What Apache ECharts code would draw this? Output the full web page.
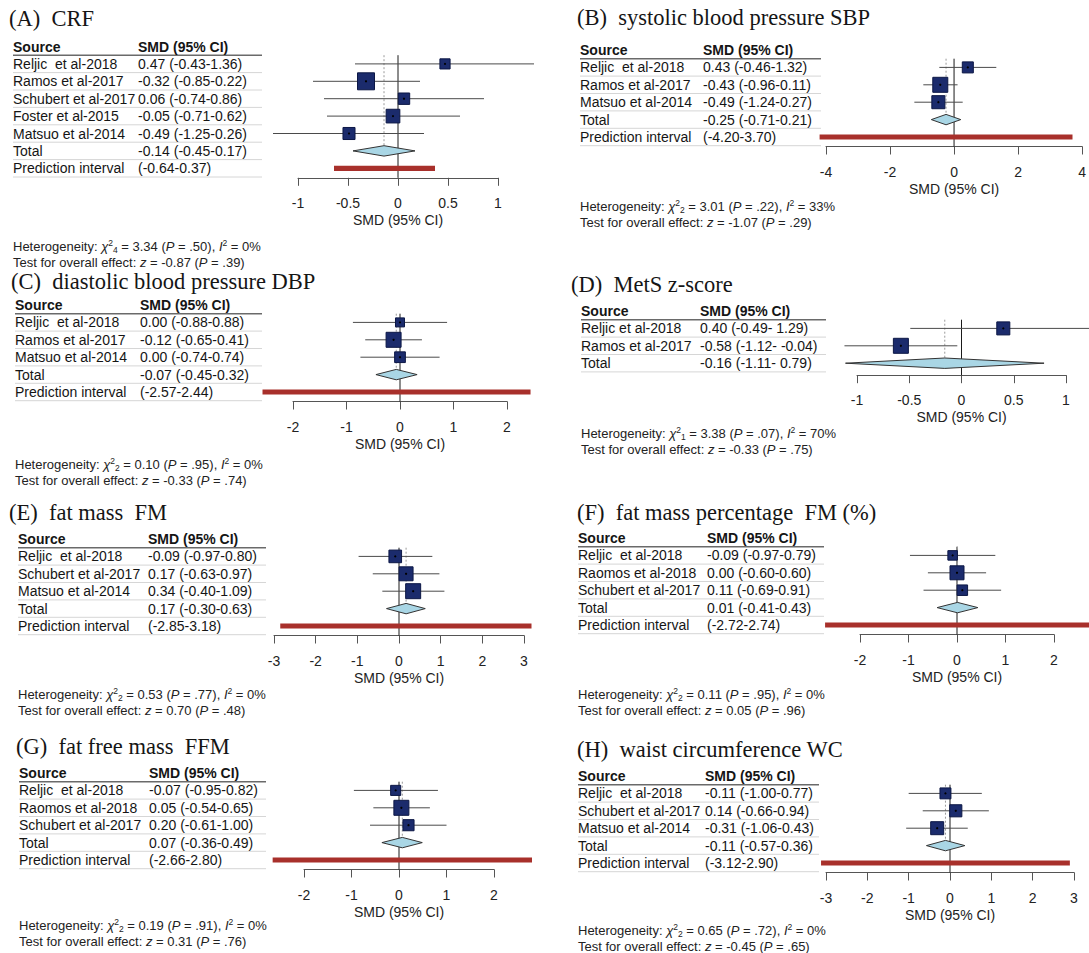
<!DOCTYPE html>
<html><head><meta charset="utf-8">
<script src="https://cdn.jsdelivr.net/npm/echarts@6/dist/echarts.min.js"></script>
<style>html,body{margin:0;padding:0;background:#fff}#c{width:1089px;height:953px}</style>
</head><body><div id="c"></div>
<script>
// ---------------- DATA ----------------
const titleA = 'CRF';
const studiesA = ['Reljic\u00a0\u00a0et al-2018','Ramos et al-2017','Schubert et al-2017','Foster et al-2015','Matsuo et al-2014'];
const smdA = [0.47,-0.32,0.06,-0.05,-0.49];
const lowA = [-0.43,-0.85,-0.74,-0.71,-1.25];
const highA = [1.36,0.22,0.86,0.62,0.26];
const weightA = [12.1,33.8,15.2,21.9,17.0];
const totalA = [-0.14,-0.45,0.17];
const predA = [-0.64,0.37];
const ticksA = [-1,-0.5,0,0.5,1];
const hetA = ['4','3.34','.50','0%'];
const testA = ['-0.87','.39'];

const titleB = 'systolic blood pressure SBP';
const studiesB = ['Reljic\u00a0\u00a0et al-2018','Ramos et al-2017','Matsuo et al-2014'];
const smdB = [0.43,-0.43,-0.49];
const lowB = [-0.46,-0.96,-1.24];
const highB = [1.32,0.11,0.27];
const weightB = [23.5,43.5,33.0];
const totalB = [-0.25,-0.71,0.21];
const predB = [-4.20,3.70];
const ticksB = [-4,-2,0,2,4];
const hetB = ['2','3.01','.22','33%'];
const testB = ['-1.07','.29'];

const titleC = 'diastolic blood pressure DBP';
const studiesC = ['Reljic\u00a0\u00a0et al-2018','Ramos et al-2017','Matsuo et al-2014'];
const smdC = [0.00,-0.12,0.00];
const lowC = [-0.88,-0.65,-0.74];
const highC = [0.88,0.41,0.74];
const weightC = [19.3,53.4,27.3];
const totalC = [-0.07,-0.45,0.32];
const predC = [-2.57,2.44];
const ticksC = [-2,-1,0,1,2];
const hetC = ['2','0.10','.95','0%'];
const testC = ['-0.33','.74'];

const titleD = 'MetS z-score';
const studiesD = ['Reljic et al-2018','Ramos et al-2017'];
const smdD = [0.40,-0.58];
const lowD = [-0.49,-1.12];
const highD = [1.29,-0.04];
const weightD = [43,57];
const totalD = [-0.16,-1.11,0.79];
const predD = null;
const ticksD = [-1,-0.5,0,0.5,1];
const hetD = ['1','3.38','.07','70%'];
const testD = ['-0.33','.75'];

const titleE = 'fat mass\u00a0\u00a0FM';
const studiesE = ['Reljic\u00a0\u00a0et al-2018','Schubert et al-2017','Matsuo et al-2014'];
const smdE = [-0.09,0.17,0.34];
const lowE = [-0.97,-0.63,-0.40];
const highE = [0.80,0.97,1.09];
const weightE = [27.5,33.7,38.8];
const totalE = [0.17,-0.30,0.63];
const predE = [-2.85,3.18];
const ticksE = [-3,-2,-1,0,1,2,3];
const hetE = ['2','0.53','.77','0%'];
const testE = ['0.70','.48'];

const titleF = 'fat mass percentage\u00a0\u00a0FM (%)';
const studiesF = ['Reljic\u00a0\u00a0et al-2018','Raomos et al-2018','Schubert et al-2017'];
const smdF = [-0.09,0.00,0.11];
const lowF = [-0.97,-0.60,-0.69];
const highF = [0.79,0.60,0.91];
const weightF = [22.9,49.3,27.8];
const totalF = [0.01,-0.41,0.43];
const predF = [-2.72,2.74];
const ticksF = [-2,-1,0,1,2];
const hetF = ['2','0.11','.95','0%'];
const testF = ['0.05','.96'];

const titleG = 'fat free mass\u00a0\u00a0FFM';
const studiesG = ['Reljic\u00a0\u00a0et al-2018','Raomos et al-2018','Schubert et al-2017'];
const smdG = [-0.07,0.05,0.20];
const lowG = [-0.95,-0.54,-0.61];
const highG = [0.82,0.65,1.00];
const weightG = [22.6,50.0,27.4];
const totalG = [0.07,-0.36,0.49];
const predG = [-2.66,2.80];
const ticksG = [-2,-1,0,1,2];
const hetG = ['2','0.19','.91','0%'];
const testG = ['0.31','.76'];

const titleH = 'waist circumference WC';
const studiesH = ['Reljic\u00a0\u00a0et al-2018','Schubert et al-2017','Matsuo et al-2014'];
const smdH = [-0.11,0.14,-0.31];
const lowH = [-1.00,-0.66,-1.06];
const highH = [0.77,0.94,0.43];
const weightH = [27.5,33.7,38.8];
const totalH = [-0.11,-0.57,0.36];
const predH = [-3.12,2.90];
const ticksH = [-3,-2,-1,0,1,2,3];
const hetH = ['2','0.65','.72','0%'];
const testH = ['-0.45','.65'];

// ---------------- LAYOUT ----------------
const rowH = 17.4;
const layout = {
  A:{titleX:9, titleY:18, tableX:13, colX:138, tableR:262, headerY:46.5, pxMin:298, pxMax:498, hetY:246, testY:262, boxMax:17, axisOff:9.5, sep:'-'},
  B:{titleX:577, titleY:17, tableX:580, colX:703, tableR:821, headerY:50, pxMin:826, pxMax:1083, hetY:206, testY:222, boxMax:15, axisOff:9.5, sep:'-'},
  C:{titleX:11, titleY:281, tableX:15, colX:140, tableR:262, headerY:305, pxMin:293, pxMax:507, hetY:464, testY:480, boxMax:15, axisOff:9.5, sep:'-'},
  D:{titleX:571, titleY:284, tableX:581, colX:700, tableR:826, headerY:311, pxMin:857, pxMax:1066, hetY:433, testY:449, boxMax:15, axisOff:12, sep:'- '},
  E:{titleX:9, titleY:512, tableX:18, colX:148, tableR:266, headerY:539, pxMin:274, pxMax:524, hetY:694, testY:710, boxMax:15, axisOff:9.5, sep:'-'},
  F:{titleX:577, titleY:512, tableX:578, colX:707, tableR:824, headerY:538, pxMin:860, pxMax:1054, hetY:694, testY:710, boxMax:14, axisOff:9.5, sep:'-'},
  G:{titleX:16, titleY:746, tableX:19, colX:149, tableR:266, headerY:773, pxMin:304, pxMax:494, hetY:925, testY:941, boxMax:15, axisOff:9.5, sep:'-'},
  H:{titleX:577, titleY:749, tableX:578, colX:705, tableR:819, headerY:776, pxMin:826, pxMax:1074, hetY:930, testY:946, boxMax:13, axisOff:9.5, sep:'-'}
};

const panels = [
  {id:'A', title:titleA, studies:studiesA, smd:smdA, low:lowA, high:highA, weight:weightA, total:totalA, pred:predA, ticks:ticksA, het:hetA, test:testA},
  {id:'B', title:titleB, studies:studiesB, smd:smdB, low:lowB, high:highB, weight:weightB, total:totalB, pred:predB, ticks:ticksB, het:hetB, test:testB},
  {id:'C', title:titleC, studies:studiesC, smd:smdC, low:lowC, high:highC, weight:weightC, total:totalC, pred:predC, ticks:ticksC, het:hetC, test:testC},
  {id:'D', title:titleD, studies:studiesD, smd:smdD, low:lowD, high:highD, weight:weightD, total:totalD, pred:predD, ticks:ticksD, het:hetD, test:testD},
  {id:'E', title:titleE, studies:studiesE, smd:smdE, low:lowE, high:highE, weight:weightE, total:totalE, pred:predE, ticks:ticksE, het:hetE, test:testE},
  {id:'F', title:titleF, studies:studiesF, smd:smdF, low:lowF, high:highF, weight:weightF, total:totalF, pred:predF, ticks:ticksF, het:hetF, test:testF},
  {id:'G', title:titleG, studies:studiesG, smd:smdG, low:lowG, high:highG, weight:weightG, total:totalG, pred:predG, ticks:ticksG, het:hetG, test:testG},
  {id:'H', title:titleH, studies:studiesH, smd:smdH, low:lowH, high:highH, weight:weightH, total:totalH, pred:predH, ticks:ticksH, het:hetH, test:testH}
];

const SANS = '"Liberation Sans", Arial, Helvetica, sans-serif';
const SERIF = '"Liberation Serif", "Times New Roman", serif';
const TXT = '#151515';
const fmt = v => v.toFixed(2);

const grids = [], xAxes = [], yAxes = [], series = [], graphics = [];

const richStyles = {
  n:{fontSize:13, fontFamily:SANS, fill:'#222', lineHeight:16},
  i:{fontSize:13, fontFamily:SANS, fontStyle:'italic', fill:'#222', lineHeight:16},
  sup:{fontSize:8.5, fontFamily:SANS, fill:'#222', lineHeight:8, verticalAlign:'top'},
  sub:{fontSize:8.5, fontFamily:SANS, fill:'#222', lineHeight:8, verticalAlign:'bottom'}
};

panels.forEach(P => {
  const L = layout[P.id];
  const n = P.studies.length;
  const totalRow = n + 1;
  const last = P.pred ? n + 2 : n + 1;
  const top = L.headerY - rowH / 2;
  const axisY = L.headerY + last * rowH + L.axisOff;

  // title + footnotes
  graphics.push({type:'text', x:L.titleX, y:L.titleY, style:{text:'(' + P.id + ')\u00a0\u00a0' + P.title, font:'22.5px ' + SERIF, fill:TXT, verticalAlign:'middle'}});
  graphics.push({type:'text', x:L.tableX, y:L.hetY, style:{
    text:'{n|Heterogeneity: }{i|\u03c7}{sup|2}{sub|' + P.het[0] + '}{n| = ' + P.het[1] + ' (}{i|P}{n| = ' + P.het[2] + '), }{i|I}{sup|2}{n| = ' + P.het[3] + '}',
    rich:richStyles, verticalAlign:'middle'}});
  graphics.push({type:'text', x:L.tableX, y:L.testY, style:{
    text:'{n|Test for overall effect: }{i|z}{n| = ' + P.test[0] + ' (}{i|P}{n| = ' + P.test[1] + ')}',
    rich:richStyles, verticalAlign:'middle'}});

  // ---- table grid ----
  const tg = grids.length;
  grids.push({left:L.tableX, top:top, width:L.tableR - L.tableX, height:(last + 1) * rowH});
  xAxes.push({gridIndex:tg, type:'value', min:0, max:1, show:false});
  yAxes.push({gridIndex:tg, type:'value', inverse:true, min:-0.5, max:last + 0.5, show:false});
  const rows = [{name:'Source', val:'SMD (95% CI)', bold:true}];
  P.studies.forEach((s, k) => rows.push({name:s, val:fmt(P.smd[k]) + ' (' + fmt(P.low[k]) + L.sep + fmt(P.high[k]) + ')'}));
  rows.push({name:'Total', val:fmt(P.total[0]) + ' (' + fmt(P.total[1]) + L.sep + fmt(P.total[2]) + ')'});
  if (P.pred) rows.push({name:'Prediction interval', val:'(' + fmt(P.pred[0]) + L.sep + fmt(P.pred[1]) + ')'});
  const colOff = L.colX - L.tableX;
  series.push({
    type:'custom', xAxisIndex:tg, yAxisIndex:tg, silent:true, animation:false,
    data: rows.map((_, r) => [0, r]), encode:{x:0, y:1},
    renderItem:(params, api) => {
      const r = api.value(1);
      const p = api.coord([0, r]);
      const pb = api.coord([0, r + 0.5]);
      const w = params.coordSys.width;
      const row = rows[r];
      const font = (row.bold ? 'bold ' : '') + '14px ' + SANS;
      return {type:'group', children:[
        {type:'line', shape:{x1:p[0], y1:pb[1], x2:p[0] + w, y2:pb[1]}, style:{stroke: r === 0 ? '#6a6a6a' : '#d6d6d6', lineWidth: r === 0 ? 1.6 : 1}},
        {type:'text', x:p[0], y:p[1], style:{text:row.name, font:font, fill:TXT, verticalAlign:'middle', align:'left'}},
        {type:'text', x:p[0] + colOff, y:p[1], style:{text:row.val, font:font, fill:TXT, verticalAlign:'middle', align:'left'}}
      ]};
    }
  });

  // ---- plot grid ----
  const pg = grids.length;
  const yMax = (axisY - top) / rowH - 0.5;
  grids.push({left:L.pxMin, top:top, width:L.pxMax - L.pxMin, height:axisY - top});
  xAxes.push({
    gridIndex:pg, type:'value', min:P.ticks[0], max:P.ticks[P.ticks.length - 1], interval:P.ticks[1] - P.ticks[0],
    axisLine:{show:true, onZero:false, lineStyle:{color:'#555', width:1}},
    axisTick:{show:true, length:8, lineStyle:{color:'#555', width:1}},
    axisLabel:{margin:18, fontSize:14, color:'#222', fontFamily:SANS},
    splitLine:{show:false},
    name:'SMD (95% CI)', nameLocation:'middle', nameGap:35,
    nameTextStyle:{fontSize:14, color:'#222', fontFamily:SANS}
  });
  yAxes.push({gridIndex:pg, type:'value', inverse:true, min:-0.5, max:yMax, show:false});

  // reference lines: null line and pooled estimate
  series.push({
    type:'custom', xAxisIndex:pg, yAxisIndex:pg, silent:true, animation:false, z:1,
    data:[[0, 0.5, yMax, 0], [P.total[0], 0.5, totalRow, 1]], encode:{x:0, y:[1, 2]},
    renderItem:(params, api) => {
      const a = api.coord([api.value(0), api.value(1)]);
      const b = api.coord([api.value(0), api.value(2)]);
      const dotted = api.value(3) === 1;
      return {type:'line', shape:{x1:a[0], y1:a[1], x2:b[0], y2:b[1]},
        style:{stroke: dotted ? '#9a9a9a' : '#1a1a1a', lineWidth:1, lineDash: dotted ? [2, 2] : null}};
    }
  });

  // prediction interval
  if (P.pred) {
    series.push({
      type:'custom', xAxisIndex:pg, yAxisIndex:pg, silent:true, animation:false, z:2,
      data:[[P.pred[0], n + 2, P.pred[1]]], encode:{x:[0, 2], y:1},
      renderItem:(params, api) => {
        const a = api.coord([api.value(0), api.value(1)]);
        const b = api.coord([api.value(2), api.value(1)]);
        return {type:'rect', shape:{x:a[0], y:a[1] - 2.6, width:b[0] - a[0], height:5.2}, style:{fill:'#a8302b'}};
      }
    });
  }

  // pooled diamond
  series.push({
    type:'custom', xAxisIndex:pg, yAxisIndex:pg, silent:true, animation:false, z:3,
    data:[[P.total[0], totalRow, P.total[1], P.total[2]]], encode:{x:[0, 2, 3], y:1},
    renderItem:(params, api) => {
      const r = api.value(1);
      const c = api.coord([api.value(0), r]);
      const lo = api.coord([api.value(2), r]);
      const hi = api.coord([api.value(3), r]);
      const h = 5.2;
      return {type:'polygon', shape:{points:[[lo[0], c[1]], [c[0], c[1] - h], [hi[0], c[1]], [c[0], c[1] + h]]},
        style:{fill:'#a9d6e5', stroke:'#333', lineWidth:1}};
    }
  });

  // studies
  const maxW = Math.max.apply(null, P.weight);
  series.push({
    type:'custom', xAxisIndex:pg, yAxisIndex:pg, silent:true, animation:false, z:4,
    data:P.studies.map((s, k) => [P.smd[k], k + 1, P.low[k], P.high[k], P.weight[k]]), encode:{x:[0, 2, 3], y:1},
    renderItem:(params, api) => {
      const r = api.value(1);
      const c = api.coord([api.value(0), r]);
      const lo = api.coord([api.value(2), r]);
      const hi = api.coord([api.value(3), r]);
      const s = L.boxMax * Math.sqrt(api.value(4) / maxW);
      return {type:'group', children:[
        {type:'line', shape:{x1:lo[0], y1:c[1], x2:hi[0], y2:c[1]}, style:{stroke:'#4a4a4a', lineWidth:1}},
        {type:'rect', shape:{x:c[0] - s / 2, y:c[1] - s / 2, width:s, height:s}, style:{fill:'#1b2b6c', stroke:'#0c1745', lineWidth:1}},
        {type:'circle', shape:{cx:c[0], cy:c[1], r:1.1}, style:{fill:'#000'}}
      ]};
    }
  });
});

const chart = echarts.init(document.getElementById('c'), null, {renderer:'svg'});
chart.setOption({
  animation:false,
  backgroundColor:'#fff',
  grid:grids, xAxis:xAxes, yAxis:yAxes, series:series,
  graphic:{elements:graphics}
});
</script>
</body></html>
